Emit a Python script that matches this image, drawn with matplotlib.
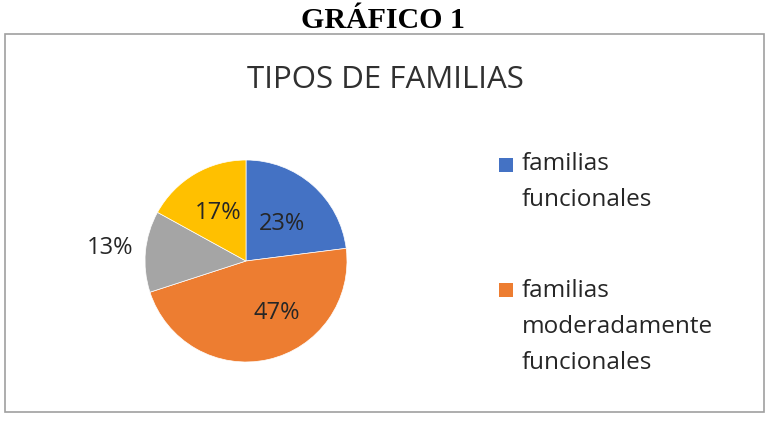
import matplotlib
matplotlib.use("Agg")
import matplotlib.pyplot as plt
from matplotlib.patches import Rectangle

categories = ["familias\nfuncionales", "familias\nmoderadamente\nfuncionales",
              "familias\ndisfuncionales", "familias severamente\ndisfuncionales"]
values = [23, 47, 13, 17]
labels = ["23%", "47%", "13%", "17%"]
colors = ["#4472C4", "#ED7D31", "#A5A5A5", "#FFC000"]
shown_in_legend = 2

fig = plt.figure(figsize=(7.78, 4.34), dpi=100)
W, H = 778, 434

def fx(x): return x / W
def fy(y): return 1 - y / H

# outer frame
fig.patches.append(Rectangle((fx(5), fy(412)), fx(764) - fx(5), fy(34) - fy(412),
                             transform=fig.transFigure, fill=False,
                             edgecolor="#A0A0A0", linewidth=1.2))
fig.text(fx(383), fy(20), "GRÁFICO 1", ha="center", va="center",
         family="Liberation Serif", fontweight="bold", fontsize=21.5)
fig.text(fx(385), fy(80), "TIPOS DE FAMILIAS", ha="center", va="center",
         family="Open Sans", fontsize=22.5, color="#303030")

# pie axes: center (246,261), radius ~101
r = 101
ax = fig.add_axes([fx(246 - r), fy(261 + r), 2 * r / W, 2 * r / H])
wedges, _ = ax.pie(values, colors=colors, startangle=90, counterclock=False,
                   wedgeprops=dict(linewidth=0.5, edgecolor="white"))
ax.set_aspect("equal")
ax.set_xlim(-1, 1)
ax.set_ylim(-1, 1)

label_pos = [(0.36, 0.37), (0.30, -0.51), (-1.35, 0.13), (-0.28, 0.48)]
for (x, y), t in zip(label_pos, labels):
    ax.text(x, y, t, ha="center", va="center", fontsize=17,
            family="Open Sans", color="#262626")

# legend (only first entries visible, as in the reference)
entry_mid = [165, 290]   # centre of legend marker of each entry
text_top = [152, 279]
for i in range(shown_in_legend):
    y0 = entry_mid[i]
    fig.patches.append(Rectangle((fx(499), fy(y0 + 7)), 14 / W, 14 / H,
                                 transform=fig.transFigure,
                                 facecolor=colors[i], edgecolor="none"))
    fig.text(fx(522), fy(text_top[i]), categories[i], ha="left", va="top",
             family="Open Sans", fontsize=17.5, color="#262626",
             linespacing=1.68)

fig.savefig("out.png", dpi=100)
